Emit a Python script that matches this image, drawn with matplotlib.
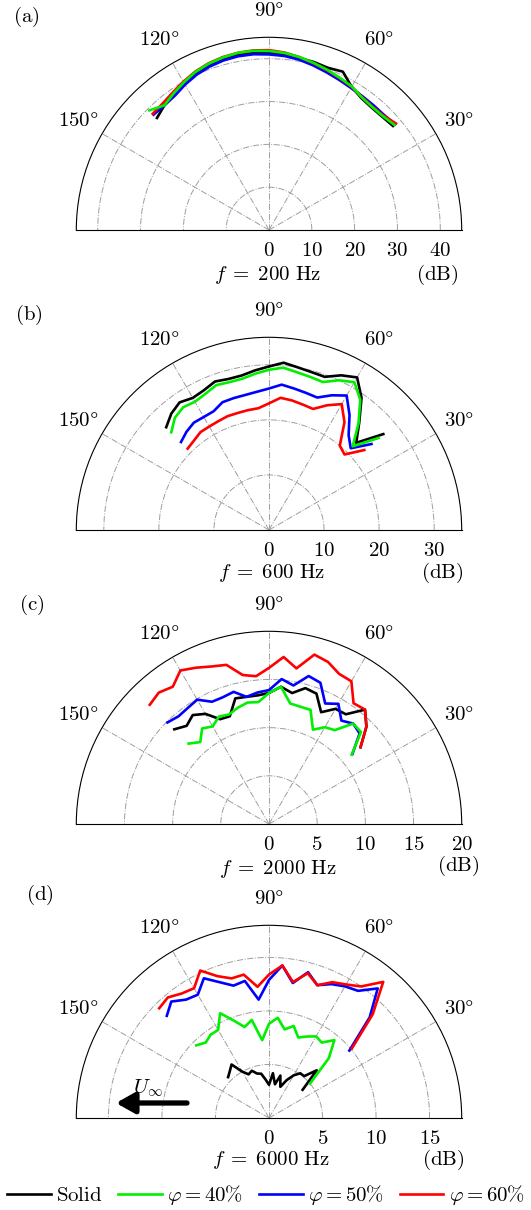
import numpy as np
import matplotlib.pyplot as plt
import matplotlib.transforms as mtransforms

plt.rcParams['mathtext.fontset'] = 'cm'
plt.rcParams['font.family'] = 'serif'
plt.rcParams['font.serif'] = ['DejaVu Serif']
plt.rcParams['font.size'] = 15

W, H = 531, 1210

# microphone angles (deg)
theta = [135, 130, 125, 120, 115, 110, 105, 100, 95, 90,
         85, 80, 75, 70, 65, 60, 55, 50, 45, 40]

# (a) f = 200 Hz, SPL in dB
a_solid = [37.0, 38.0, 38.6, 39.5, 40.4, 41.0, 41.4, 41.6, 41.6, 41.4,
           41.2, 40.8, 40.6, 40.3, 40.8, 38.6, 37.6, 37.3, 37.4, 37.8]
a_p40 = [39.5, 38.0, 38.9, 39.8, 40.7, 41.3, 41.7, 42.0, 42.0, 41.8,
         41.5, 41.0, 40.4, 39.8, 39.2, 38.7, 37.8, 37.5, 37.6, 38.2]
a_p50 = [38.1, 38.0, 38.3, 39.2, 40.0, 40.6, 41.0, 41.2, 41.2, 41.0,
         40.8, 40.4, 39.8, 39.2, 38.7, 38.3, 38.1, 38.0, 38.0, 38.4]
a_p60 = [38.4, 38.6, 39.2, 40.0, 40.8, 41.4, 41.8, 42.0, 42.1, 42.0,
         41.6, 41.0, 40.3, 39.7, 39.1, 38.6, 37.9, 37.6, 37.8, 38.7]

# (b) f = 600 Hz
b_solid = [26.4, 27.6, 28.3, 27.7, 28.0, 28.7, 28.4, 28.5, 29.1, 29.7,
           30.5, 30.0, 29.7, 29.6, 31.0, 32.0, 29.3, 25.5, 22.4, 27.1]
b_p40 = [25.1, 26.6, 27.2, 26.9, 27.3, 28.0, 27.8, 27.9, 28.5, 29.1,
         29.6, 29.1, 28.8, 28.6, 30.0, 31.0, 28.9, 25.3, 21.5, 26.0]
b_p50 = [22.6, 23.3, 23.8, 23.7, 23.8, 24.7, 24.8, 24.9, 25.2, 25.7,
         26.5, 26.1, 25.8, 25.6, 27.0, 28.2, 25.5, 22.5, 21.0, 24.3]
b_p60 = [20.9, 21.2, 21.7, 21.7, 21.8, 22.0, 22.0, 22.1, 22.2, 23.0,
         24.1, 23.9, 23.6, 23.4, 25.0, 26.4, 23.9, 20.0, 19.4, 22.6]

# (c) f = 2000 Hz
c_solid = [13.9, 13.3, 13.8, 13.2, 12.0, 11.9, 13.5, 13.4, 13.4, 13.6,
           14.3, 13.8, 14.6, 14.4, 12.8, 13.8, 13.9, 15.5, 14.3, 12.4]
c_p40 = [11.8, 11.1, 12.1, 11.7, 12.3, 12.1, 12.5, 12.8, 12.7, 13.6,
         14.3, 12.7, 12.6, 12.6, 10.8, 11.6, 11.9, 13.6, 13.5, 11.2]
c_p50 = [14.9, 14.6, 14.7, 14.9, 14.0, 14.0, 14.2, 13.4, 13.7, 13.9,
         15.1, 14.6, 15.9, 15.6, 13.8, 14.4, 13.1, 13.6, 13.3, 11.3]
c_p60 = [17.5, 17.8, 17.4, 18.4, 17.9, 17.4, 17.1, 15.7, 15.4, 16.2,
         17.4, 16.4, 18.2, 17.9, 17.2, 17.1, 15.3, 15.5, 14.3, 12.4]

# (d) f = 6000 Hz
d_solid = [5.4, 5.7, 6.1, 5.0, 4.5, 4.7, 4.3, 4.2, 3.6, 3.1,
           4.2, 3.2, 4.1, 3.1, 3.9, 4.6, 5.1, 5.1, 6.3, 4.1]
d_p40 = [9.6, 9.2, 9.5, 9.5, 10.8, 9.7, 8.8, 9.3, 7.3, 8.8,
         9.4, 8.4, 8.9, 8.0, 8.4, 8.8, 8.6, 9.5, 7.9, 5.0]
d_p50 = [13.5, 14.2, 13.5, 13.3, 14.4, 13.5, 12.8, 13.0, 11.1, 12.9,
         14.3, 12.8, 14.1, 13.2, 13.8, 14.2, 14.5, 15.8, 13.3, 9.8]
d_p60 = [14.5, 14.7, 14.2, 14.0, 15.2, 14.1, 13.5, 13.6, 12.3, 13.4,
         14.3, 12.9, 14.0, 13.2, 14.0, 14.4, 15.0, 16.6, 13.7, 10.1]

freqs = ['200', '600', '2000', '6000']
rmax = [45, 35, 20, 18]
rgrid = [[10, 20, 30, 40], [10, 20, 30], [5, 10, 15], [5, 10, 15]]
rticks = [[0, 10, 20, 30, 40], [0, 10, 20, 30], [0, 5, 10, 15, 20], [0, 5, 10, 15]]
series = [(a_solid, a_p40, a_p50, a_p60), (b_solid, b_p40, b_p50, b_p60),
          (c_solid, c_p40, c_p50, c_p60), (d_solid, d_p40, d_p50, d_p60)]

colors = ['black', '#00f000', '#0000ff', '#ff0000']
zorders = [3, 6, 4, 5]
names = [r'$\mathrm{Solid}$', r'$\varphi = 40\%$', r'$\varphi = 50\%$',
         r'$\varphi = 60\%$']
ang_lbl = [r'$%d\degree$' % a for a in [30, 60, 90, 120, 150]]

# layout in pixels (top-left origin)
cy = [230, 530, 824, 1118]
cx, R = 269, 192.7
panel_lbl = [(26, 17), (29, 315), (32, 605), (40, 895)]
f_pos = [(268, 275), (272, 573), (278, 869), (271, 1160)]
db_pos = [(437, 275), (442, 573), (458, 866), (443, 1160)]


def fpos(x, y):
    return x / W, 1 - y / H


fig = plt.figure(figsize=(W / 100, H / 100), dpi=100)
th = np.deg2rad(theta)

for i in range(4):
    # square box; the half disk sits centred in it
    top = cy[i] - 1.5 * R
    ax = fig.add_axes([(cx - R) / W, (H - top - 2 * R) / H, 2 * R / W, 2 * R / H],
                      projection='polar')
    ax.set_thetamin(0)
    ax.set_thetamax(180)
    ax.set_rlim(0, rmax[i])
    ax.set_rgrids(rgrid[i], labels=[''] * len(rgrid[i]))
    ax.set_thetagrids([30, 60, 90, 120, 150], labels=ang_lbl)
    ax.tick_params(axis='x', pad=9)
    ax.grid(True, linestyle='-.', color='0.62', linewidth=0.7)
    for sp in ax.spines.values():
        sp.set_linewidth(0.8)
        sp.set_color('black')

    for j in range(4):
        ax.plot(th, series[i][j], color=colors[j], lw=1.9, zorder=zorders[j])

    off = mtransforms.ScaledTranslation(0, -0.2, fig.dpi_scale_trans)
    for r in rticks[i]:
        ax.text(0, r, r'$%d$' % r, transform=ax.transData + off,
                ha='center', va='center')

    x, y = panel_lbl[i]
    fig.text(*fpos(x, y), r'$\mathrm{(%s)}$' % 'abcd'[i], ha='center', va='center')
    x, y = f_pos[i]
    fig.text(*fpos(x, y), r'$f \;=\; %s\ \mathrm{Hz}$' % freqs[i],
             ha='center', va='center')
    x, y = db_pos[i]
    fig.text(*fpos(x, y), r'$\mathrm{(dB)}$', ha='center', va='center')

    if i == 3:
        ax.annotate('', xy=fpos(116, 1103), xytext=fpos(187, 1103),
                    xycoords='figure fraction', textcoords='figure fraction',
                    annotation_clip=False,
                    arrowprops=dict(arrowstyle='-|>,head_length=0.8,head_width=0.45',
                                    lw=3.8, color='black', mutation_scale=14,
                                    shrinkA=0, shrinkB=0))
        fig.text(*fpos(148, 1088), r'$U_\infty$', ha='center', va='center')

handles = [plt.Line2D([], [], color=c, lw=1.9) for c in colors]
fig.legend(handles, names, loc='center left', bbox_to_anchor=fpos(7, 1195),
           ncol=4, frameon=False, handlelength=2.1, handletextpad=0.25,
           columnspacing=0.75, borderpad=0, borderaxespad=0)

fig.savefig('out.png', dpi=100)
